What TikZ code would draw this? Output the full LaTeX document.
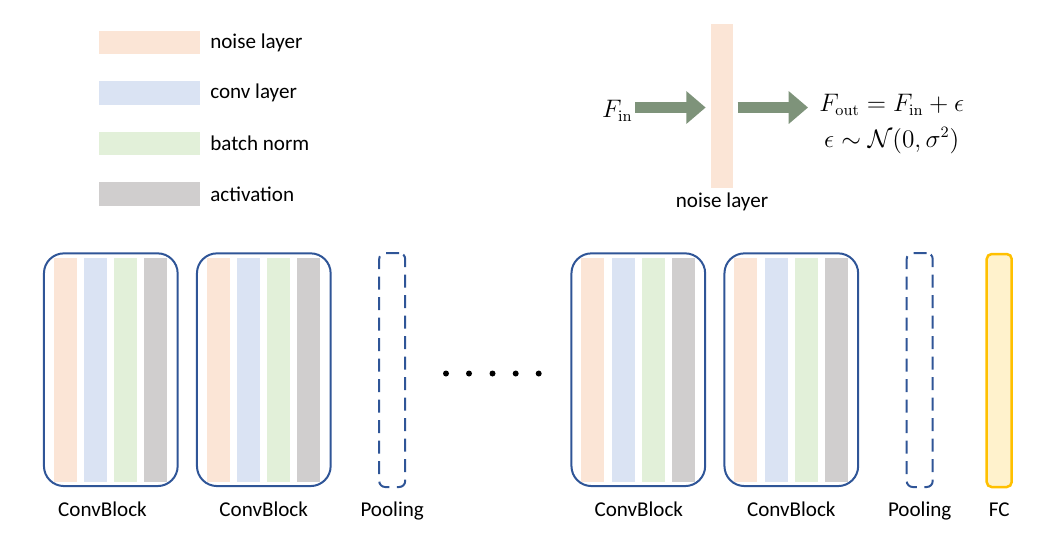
\documentclass[tikz,border=0pt]{standalone}
\usepackage[no-math]{fontspec}
\setmainfont{Carlito}
\usepackage{amsmath}
\usepackage{tikz}
\usetikzlibrary{positioning}
\usetikzlibrary{arrows.meta}

\definecolor{noisec}{HTML}{FBE5D6}
\definecolor{convc}{HTML}{DAE3F3}
\definecolor{bnc}{HTML}{E2F0D9}
\definecolor{actc}{HTML}{D0CECE}
\definecolor{blockc}{HTML}{2F5597}
\definecolor{fcfill}{HTML}{FFF2CC}
\definecolor{fcdraw}{HTML}{FFC000}
\definecolor{arrowc}{HTML}{7E937A}

\begin{document}
\begin{tikzpicture}[
      x=0.2mm, y=-0.2mm,
      font=\fontsize{12pt}{14pt}\selectfont,
      legendbox/.style={rectangle, minimum width=20.1mm, minimum height=4.7mm, inner sep=0, outer sep=0},
      legendtext/.style={inner sep=0, anchor=west},
      strip/.style={rectangle, minimum width=4.6mm, minimum height=44.8mm, inner sep=0, outer sep=0},
      block/.style={rectangle, rounded corners=4mm, draw=blockc, line width=0.4mm, minimum width=26.74mm, minimum height=46.54mm, inner sep=0, outer sep=0},
      pooling/.style={rectangle, rounded corners=1.2mm, draw=blockc, line width=0.4mm, dash pattern=on 2.6mm off 1.5mm, minimum width=5.2mm, minimum height=46.8mm, inner sep=0},
      fc/.style={rectangle, rounded corners=1mm, draw=fcdraw, fill=fcfill, line width=0.5mm, minimum width=5mm, minimum height=46.6mm, inner sep=0},
      lbl/.style={anchor=base, inner sep=0},
      eq/.style={inner sep=0, font=\fontsize{13.5pt}{16pt}\selectfont},
      bigarrow/.style={draw=arrowc, line width=2.32mm, -{Triangle[length=3.86mm, width=6.32mm, fill=arrowc]}},
      node distance=1.42mm
    ]
    \useasboundingbox (0,0) rectangle (1048,550);

    % legend
    \node [legendbox, fill=noisec] (lnoise) at (149.7,42.5) {};
    \node [legendbox, fill=convc] (lconv) [below=5.4mm of lnoise] {};
    \node [legendbox, fill=bnc] (lbn) [below=5.4mm of lconv] {};
    \node [legendbox, fill=actc] (lact) [below=5.4mm of lbn] {};
    \node [legendtext] (tnoise) [right=2mm of lnoise] {noise layer};
    \node [legendtext] (tconv) [right=2mm of lconv] {conv layer};
    \node [legendtext] (tbn) [right=2mm of lbn] {batch norm};
    \node [legendtext] (tact) [right=2mm of lact] {activation};

    % noise layer
    \node [rectangle, fill=noisec, minimum width=4.52mm, minimum height=32.74mm, inner sep=0] (noise) at (722,105.9) {};
    \node [lbl] (tnoisebar) at (722,207) {noise layer};
    \node [eq, anchor=east] (fin) at (633,110.5) {$F_{\mathrm{in}}$};
    \node [eq, align=center, anchor=west] (fout) at (819,124) {$F_{\mathrm{out}} = F_{\mathrm{in}} + \epsilon$\\[4pt] $\epsilon \sim \mathcal{N}(0, \sigma^2)$};
    \coordinate (ain) at ([yshift=1.7pt]fin.east);
    \coordinate (aout) at (ain -| noise.east);
    \draw [bigarrow, shorten <=0.4mm, shorten >=0.94mm] (ain) -- (ain -| noise.west);
    \draw [bigarrow, shorten <=0.8mm, shorten >=2.2mm] (aout) -- (aout -| fout.west) ;

    % conv blocks
    \node [block] (b1) at (110.8,369.7) {};
    \node [strip, fill=noisec] (b1a) [right=2mm of b1.west] {};
    \node [strip, fill=convc] (b1b) [right=of b1a] {};
    \node [strip, fill=bnc] (b1c) [right=of b1b] {};
    \node [strip, fill=actc] (b1d) [right=of b1c] {};

    \node [block] (b2) at (263.8,369.7) {};
    \node [strip, fill=noisec] (b2a) [right=2mm of b2.west] {};
    \node [strip, fill=convc] (b2b) [right=of b2a] {};
    \node [strip, fill=bnc] (b2c) [right=of b2b] {};
    \node [strip, fill=actc] (b2d) [right=of b2c] {};

    \node [pooling] (p1) at (392.2,370) {};

    \fill (446,373.5) circle [radius=0.6mm] (469,373.5) circle [radius=0.6mm] (492.5,373.5) circle [radius=0.6mm] (515.7,373.5) circle [radius=0.6mm] (538.7,373.5) circle [radius=0.6mm];

    \node [block] (b3) at (638.3,369.7) {};
    \node [strip, fill=noisec] (b3a) [right=2mm of b3.west] {};
    \node [strip, fill=convc] (b3b) [right=of b3a] {};
    \node [strip, fill=bnc] (b3c) [right=of b3b] {};
    \node [strip, fill=actc] (b3d) [right=of b3c] {};

    \node [block] (b4) at (791.3,369.7) {};
    \node [strip, fill=noisec] (b4a) [right=2mm of b4.west] {};
    \node [strip, fill=convc] (b4b) [right=of b4a] {};
    \node [strip, fill=bnc] (b4c) [right=of b4b] {};
    \node [strip, fill=actc] (b4d) [right=of b4c] {};

    \node [pooling] (p2) at (919.7,370) {};
    \node [fc] (fc) at (999.2,370.5) {};

    % labels
    \node [lbl] (l1) at (102.5,516) {ConvBlock};
    \node [lbl] (l2) at (263.7,516) {ConvBlock};
    \node [lbl] (l3) at (392.2,516) {Pooling};
    \node [lbl] (l4) at (638.8,516) {ConvBlock};
    \node [lbl] (l5) at (791.3,516) {ConvBlock};
    \node [lbl] (l6) at (919.7,516) {Pooling};
    \node [lbl] (l7) at (999.2,516) {FC};
  \end{tikzpicture}
\end{document}
